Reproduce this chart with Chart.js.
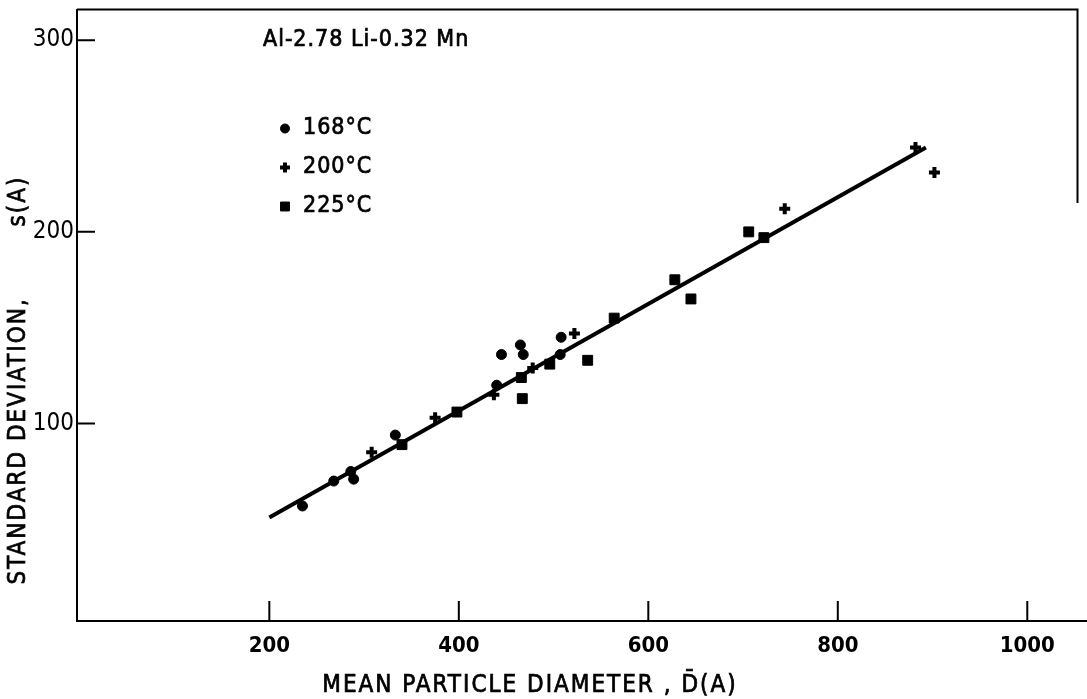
<!DOCTYPE html>
<html>
<head>
<meta charset="utf-8">
<script src="https://cdn.jsdelivr.net/npm/chart.js@4.4.0/dist/chart.umd.min.js"></script>
<style>
  html, body { margin: 0; padding: 0; background: #fff; }
  #wrap { width: 1087px; height: 699px; }
</style>
</head>
<body>
<div id="wrap"><canvas id="chart" width="1087" height="699"></canvas></div>
<script>
// values
const alloyLabel = "Al-2.78 Li-0.32 Mn";
const xTitle = "MEAN PARTICLE DIAMETER , D\u0304(A)";
const yTitle = "STANDARD DEVIATION,        s(A)";
const xTicks = [200, 400, 600, 800, 1000];
const yTicks = [100, 200, 300];

const seriesNames = ["168\u00B0C", "200\u00B0C", "225\u00B0C"];
const d168 = [[235, 57], [268, 70], [286, 75], [289, 71], [333, 94], [440, 120],
              [445, 136], [465, 141], [468, 136], [507, 136], [508, 145]];
const d200 = [[308, 85], [375, 103], [437, 115], [478, 129], [522, 147],
              [744, 212], [882, 244], [902, 231]];
const d225 = [[340, 89], [398, 106], [466, 124], [467, 113], [496, 131], [536, 133],
              [564, 155], [628, 175], [645, 165], [706, 200], [722, 197]];
const fitLine = [[200, 51], [893, 244]];

const FONT = "'DejaVu Sans Condensed', 'DejaVu Sans', sans-serif";
const toXY = arr => arr.map(p => ({ x: p[0], y: p[1] }));

const pointSets = [
  { label: seriesNames[0], data: toXY(d168), pointStyle: "circle", pointRadius: 5, pointBorderWidth: 1 },
  { label: seriesNames[1], data: toXY(d200), pointStyle: "cross", pointRadius: 5.5, pointBorderWidth: 4 },
  { label: seriesNames[2], data: toXY(d225), pointStyle: "rect", pointRadius: 7, pointBorderWidth: 1 },
];

function heavyText(ctx, str, x, y) {
  ctx.fillText(str, x, y);
  ctx.strokeText(str, x, y);
}

// frame, inward ticks, annotation and the legend block inside the plot
const decor = {
  id: "decor",
  afterDatasetsDraw(chart) {
    const { ctx, chartArea: a, scales: { x, y } } = chart;
    ctx.save();
    ctx.strokeStyle = "#000";
    ctx.fillStyle = "#000";
    ctx.lineWidth = 2;
    ctx.beginPath();
    ctx.moveTo(a.left, a.top);
    ctx.lineTo(a.right, a.top);
    ctx.lineTo(a.right, y.getPixelForValue(215));
    ctx.moveTo(a.right, a.bottom);
    ctx.lineTo(chart.width, a.bottom);
    xTicks.forEach(v => {
      const px = x.getPixelForValue(v);
      ctx.moveTo(px, a.bottom);
      ctx.lineTo(px, a.bottom - 20);
    });
    yTicks.forEach(v => {
      const py = y.getPixelForValue(v);
      ctx.moveTo(a.left, py);
      ctx.lineTo(a.left + 18, py);
    });
    ctx.stroke();

    pointSets.forEach((ds, i) => {
      const cy = a.top + 119 + i * 39;
      const cx = a.left + 208;
      ctx.lineWidth = ds.pointBorderWidth;
      Chart.helpers.drawPoint(ctx, {
        pointStyle: ds.pointStyle, radius: ds.pointRadius * 0.9,
        borderWidth: ds.pointBorderWidth, rotation: 0
      }, cx, cy);
    });

    ctx.lineWidth = 0.7;
    ctx.font = "23px " + FONT;
    ctx.textBaseline = "middle";
    ctx.textAlign = "left";
    ctx.letterSpacing = "1px";
    heavyText(ctx, alloyLabel, a.left + 186, a.top + 31);
    pointSets.forEach((ds, i) => {
      heavyText(ctx, ds.label, a.left + 226, a.top + 119 + i * 39);
    });

    // axis titles
    ctx.font = "24px " + FONT;
    ctx.letterSpacing = "2px";
    ctx.textAlign = "center";
    heavyText(ctx, xTitle, 530, 686);
    ctx.translate(19, 380);
    ctx.rotate(-Math.PI / 2);
    heavyText(ctx, yTitle, 0, 0);
    ctx.restore();
  }
};

new Chart(document.getElementById("chart"), {
  type: "scatter",
  data: {
    datasets: [
      {
        type: "line",
        label: "fit",
        data: toXY(fitLine),
        borderColor: "#000",
        borderWidth: 4,
        pointRadius: 0,
        fill: false,
      },
      ...pointSets.map(ds => ({
        label: ds.label,
        data: ds.data,
        pointStyle: ds.pointStyle,
        pointRadius: ds.pointRadius,
        pointBorderWidth: ds.pointBorderWidth,
        borderWidth: ds.pointBorderWidth,
        backgroundColor: "#000",
        borderColor: "#000",
      })),
    ],
  },
  options: {
    responsive: false,
    animation: false,
    layout: { padding: { top: 7, right: 5, left: 0, bottom: 0 } },
    plugins: { legend: { display: false }, tooltip: { enabled: false } },
    scales: {
      x: {
        type: "linear",
        min: -3,
        max: 1053,
        afterBuildTicks: s => { s.ticks = xTicks.map(v => ({ value: v })); },
        afterFit: s => { s.height = 78; s.paddingLeft = 0; s.paddingRight = 0; },
        grid: { display: true, drawOnChartArea: false, drawTicks: false },
        border: { display: true, color: "#000", width: 2 },
        ticks: { color: "#000", padding: 12, callback: v => String(v),
                 font: { family: FONT, size: 22, weight: "bold" } },
      },
      y: {
        type: "linear",
        min: -3,
        max: 316,
        afterBuildTicks: s => { s.ticks = yTicks.map(v => ({ value: v })); },
        afterFit: s => { s.width = 77; s.paddingTop = 0; s.paddingBottom = 0; },
        grid: { display: true, drawOnChartArea: false, drawTicks: false },
        border: { display: true, color: "#000", width: 2 },
        ticks: { color: "#000", padding: 3, callback: v => String(v),
                 font: { family: FONT, size: 24 } },
      },
    },
  },
  plugins: [decor],
});
</script>
</body>
</html>
